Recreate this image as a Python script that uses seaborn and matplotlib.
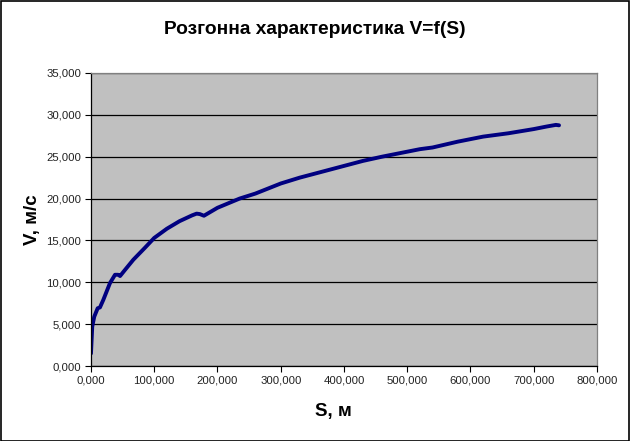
import matplotlib
matplotlib.use('Agg')
import seaborn as sns
import matplotlib.pyplot as plt
from matplotlib.ticker import FuncFormatter, MultipleLocator
from matplotlib.patches import Rectangle
import pandas as pd

# distance, m
s_values = [0, 2, 5.2, 10.6, 14.2, 19.5, 30, 38, 43, 46, 54, 67, 85, 100, 120,
            140, 160, 167, 172, 178.6, 200, 235, 260, 300, 330, 370, 400, 430,
            460, 500, 520, 540, 580, 620, 660, 700, 720, 735, 740]
# speed, m/s
v_values = [1.5, 4.7, 5.9, 6.9, 7.0, 7.9, 9.9, 10.9, 10.9, 10.75, 11.5, 12.7,
            14.1, 15.3, 16.4, 17.3, 18.0, 18.2, 18.15, 17.95, 18.9, 20.0, 20.6,
            21.8, 22.5, 23.3, 23.9, 24.5, 25.0, 25.6, 25.9, 26.1, 26.8, 27.4,
            27.8, 28.3, 28.6, 28.8, 28.75]

df = pd.DataFrame({'S': s_values, 'V': v_values})

sns.set_style('white')
plt.rcParams['font.family'] = ['Liberation Sans', 'DejaVu Sans']

fig = plt.figure(figsize=(6.3, 4.41), dpi=100)
ax = fig.add_axes([0.1444, 0.170, 0.8032, 0.6645])
ax.set_facecolor('#C0C0C0')

sns.lineplot(data=df, x='S', y='V', ax=ax, color='#000080', linewidth=2.8,
             sort=False, estimator=None)

ax.set_xlim(0, 800)
ax.set_ylim(0, 35)
ax.xaxis.set_major_locator(MultipleLocator(100))
ax.yaxis.set_major_locator(MultipleLocator(5))
fmt = FuncFormatter(lambda v, p: f'{v:.3f}'.replace('.', ','))
ax.xaxis.set_major_formatter(fmt)
ax.yaxis.set_major_formatter(fmt)
ax.grid(axis='y', color='black', linewidth=0.9)
ax.set_axisbelow(True)
ax.tick_params(axis='both', direction='out', length=4, width=0.8, color='black',
               labelsize=8.2, labelcolor='#222222', left=True, bottom=True, pad=3)

for side in ['left', 'bottom']:
    ax.spines[side].set_color('black')
    ax.spines[side].set_linewidth(0.9)
for side in ['right', 'top']:
    ax.spines[side].set_color('#808080')
    ax.spines[side].set_linewidth(0.9)

ax.set_xlabel('S, м', fontsize=13.5, fontweight='bold', color='black')
ax.set_ylabel('V, м/с', fontsize=13.5, fontweight='bold', color='black')
ax.xaxis.set_label_coords(0.48, -0.125)
ax.yaxis.set_label_coords(-0.099, 0.5)
fig.text(0.5, 0.932, 'Розгонна характеристика V=f(S)', ha='center', va='center',
         fontsize=13.8, fontweight='bold', color='black')

fig.patches.append(Rectangle((0.001, 0.001), 0.997, 0.997, transform=fig.transFigure,
                             fill=False, edgecolor='black', linewidth=1.2))

fig.savefig('out.png', dpi=100)
